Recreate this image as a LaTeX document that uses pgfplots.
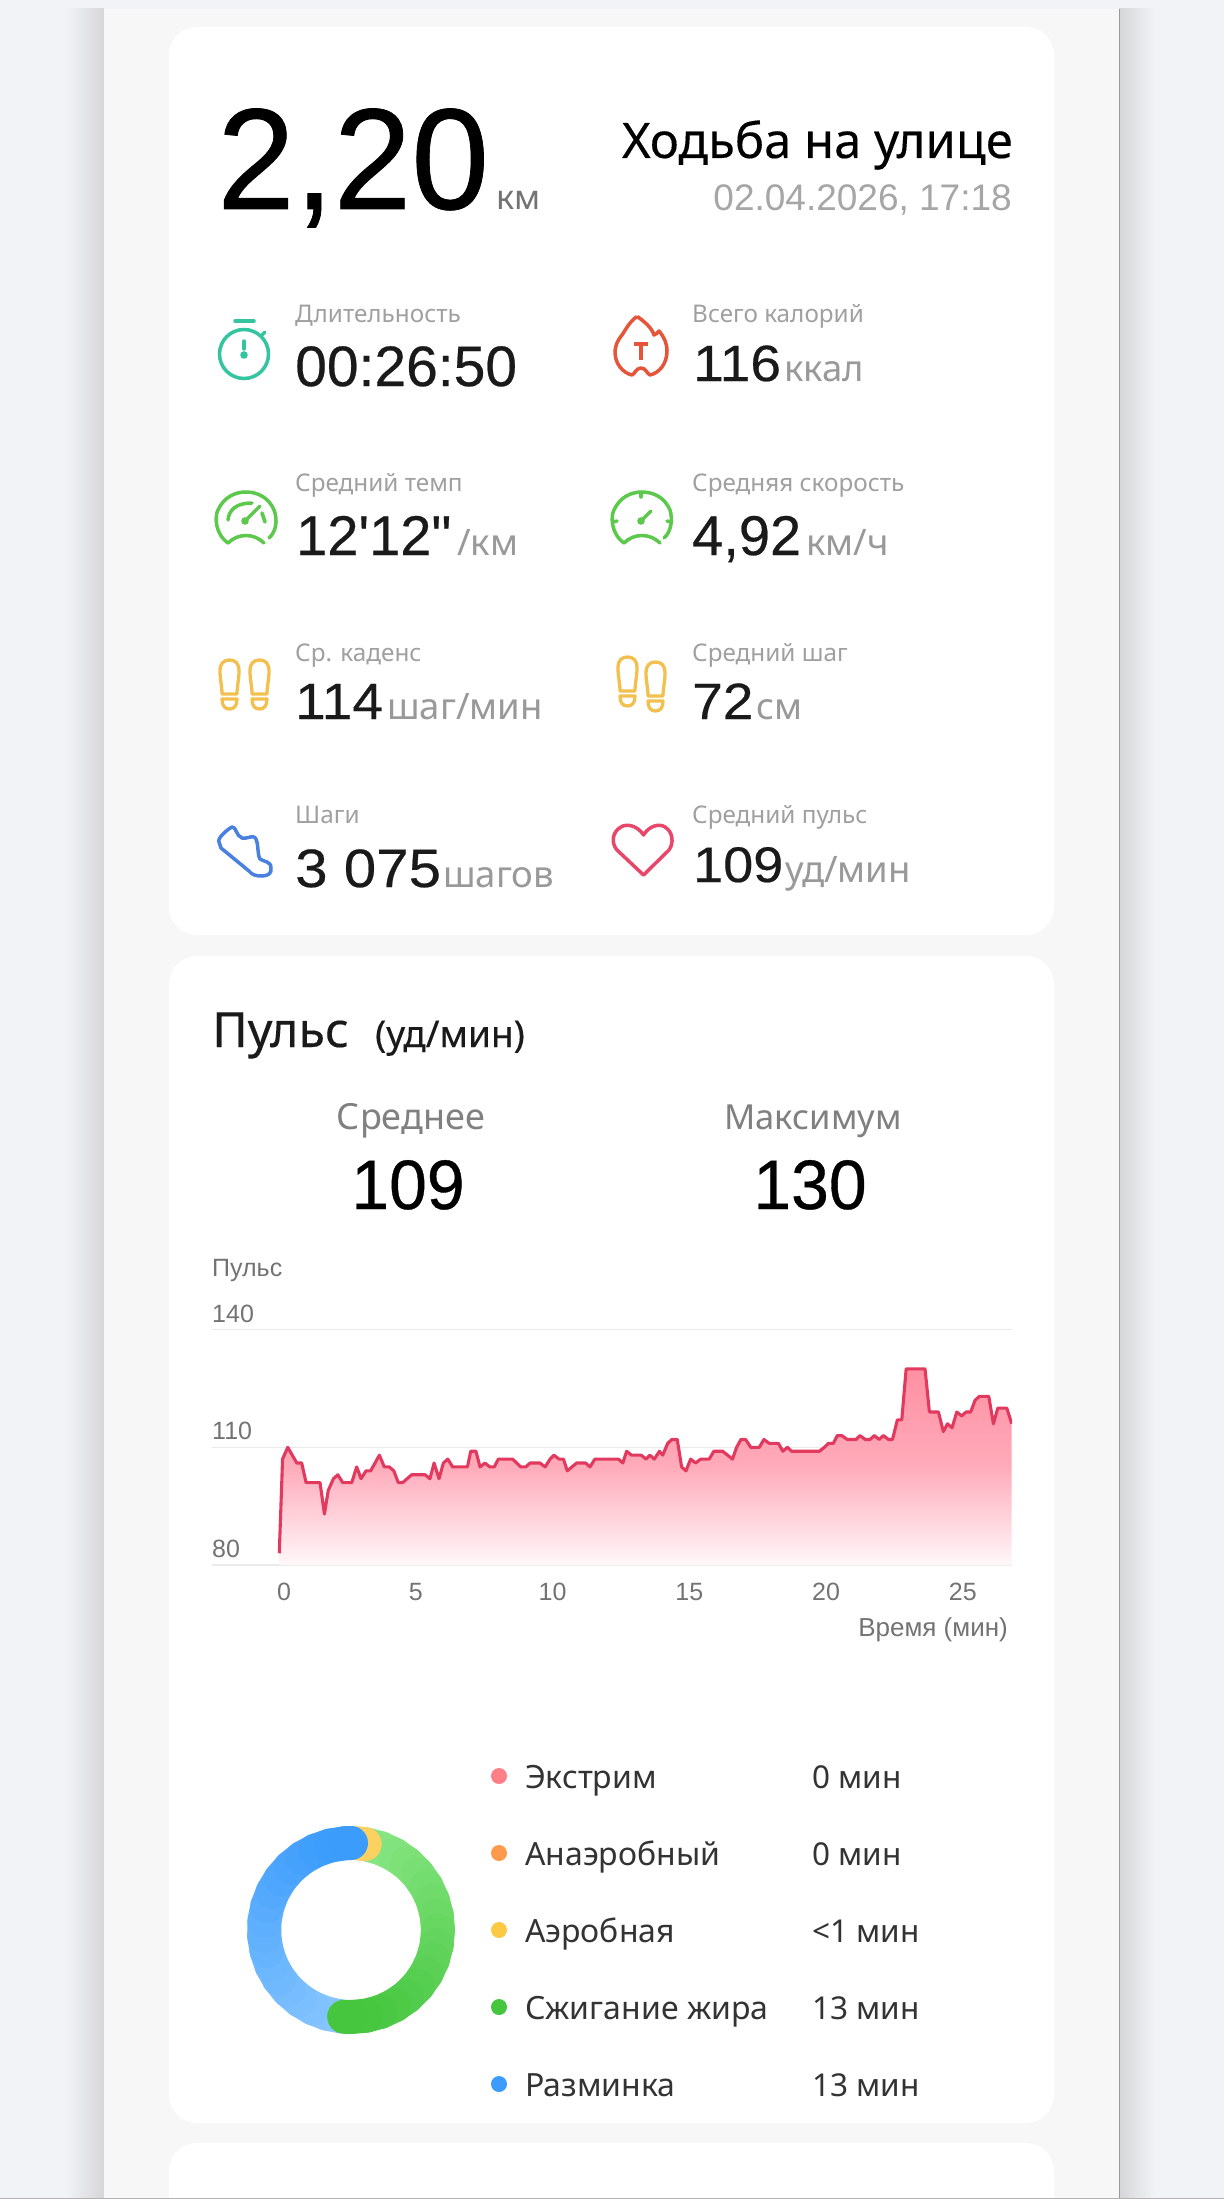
\documentclass[border=0pt]{standalone}
\usepackage{fontspec}
\usepackage{pgfplots}
\usepackage{pgfplotstable}
\pgfplotsset{compat=1.18}
\usepgfplotslibrary{polar}
\setmainfont{Noto Sans}
\newfontfamily\notom[FakeBold=0.25]{Noto Sans}
\newfontfamily\din[FakeStretch=0.97,FakeBold=0.5]{Liberation Sans}
\newfontfamily\dinA[FakeStretch=1.0,FakeBold=0.4]{Liberation Sans}
\newfontfamily\dinB[FakeStretch=1.08,FakeBold=0.4]{Liberation Sans}
\newfontfamily\dateF[FakeStretch=1.0]{Liberation Sans}
\newfontfamily\chartf{Liberation Sans}
\newcommand\fs[1]{\fontsize{#1}{#1}\selectfont}
\definecolor{bgc}{HTML}{F1F3F6}
\definecolor{panelc}{HTML}{F7F7F7}
\definecolor{shadec}{HTML}{D6D6D8}
\definecolor{lblc}{HTML}{A0A0A0}
\definecolor{unitc}{HTML}{999999}
\definecolor{valc}{HTML}{1A1A1A}
\definecolor{hrc}{HTML}{E23A5E}
\definecolor{fillc}{HTML}{FF8C9F}
\definecolor{fillm}{HTML}{FFA8B8}
\definecolor{fillb}{HTML}{FFF8FA}
\definecolor{zr}{HTML}{FF7F86}
\definecolor{zo}{HTML}{FF9A4D}
\definecolor{zy}{HTML}{FBC944}
\definecolor{zg}{HTML}{45C63E}
\definecolor{zb}{HTML}{3B9CFC}
\definecolor{gra}{HTML}{8CE888}
\definecolor{blb}{HTML}{8CC8FF}
\definecolor{stepc}{HTML}{F2C04F}
\definecolor{watchc}{HTML}{34C5A0}
\definecolor{gaugec}{HTML}{5CC84C}
\definecolor{flamec}{HTML}{E4553A}
\definecolor{shoec}{HTML}{4A80E0}
\definecolor{heartc}{HTML}{E8476A}
\newcommand\lbl[3]{\node[anchor=base west,inner sep=0pt,text=lblc,font=\fs{24.3}] at (#1,#2) {#3};}
\newcommand\val[5]{\node[anchor=base west,inner sep=0pt,text=valc,font=#4\fs{#3}] at (#1,#2) {#5};}
\newcommand\unt[3]{\node[anchor=base west,inner sep=0pt,text=unitc,font=\fs{36.5}] at (#1,#2) {#3};}
\newcommand\foot[2]{\begin{scope}[shift={(#1,#2)}]
\draw[color=stepc,line width=3.3pt,line join=round] (0,11) .. controls (0,3) and (4,0) .. (9.5,0) .. controls (15,0) and (19,3) .. (19,11) .. controls (19,20) and (17,26) .. (17,34) -- (2,34) .. controls (2,26) and (0,20) .. (0,11) -- cycle;
\draw[color=stepc,line width=3.3pt,line join=round] (2,39) -- (17,39) .. controls (17,46) and (14,49) .. (9.5,49) .. controls (5,49) and (2,46) .. (2,39) -- cycle;
\end{scope}}
\pgfplotstableread{
t bpm
0.01 83
0.13 107
0.32 110
0.65 106
0.83 106
0.99 101
1.50 101
1.66 93
1.80 99
1.99 102
2.15 103
2.33 101
2.66 101
2.84 105
3.00 102
3.18 104
3.35 104
3.67 108
3.85 105
4.03 105
4.20 104
4.36 101
4.52 101
4.85 103
5.34 103
5.52 102
5.67 106
5.85 102
6.01 106
6.17 107
6.35 105
6.89 105
7.01 109
7.20 109
7.35 105
7.53 106
7.71 105
7.87 105
8.02 107
8.54 107
8.84 105
9.02 105
9.18 106
9.54 106
9.73 105
9.91 107
10.05 108
10.24 107
10.40 107
10.54 104
10.88 106
11.21 106
11.37 105
11.55 107
12.41 107
12.57 106
12.71 109
12.89 108
13.24 108
13.42 107
13.56 108
13.72 107
13.91 109
14.03 108
14.21 111
14.36 112
14.56 112
14.72 105
14.88 104
15.05 107
15.23 106
15.42 107
15.73 107
15.90 109
16.22 109
16.58 107
16.73 110
16.89 112
17.06 112
17.25 110
17.56 110
17.73 112
17.92 111
18.26 111
18.42 109
18.59 110
18.74 109
19.76 109
19.94 110
20.09 111
20.27 111
20.41 113
20.57 113
20.78 112
21.10 112
21.24 113
21.43 112
21.61 112
21.77 113
21.94 112
22.10 113
22.28 112
22.43 112
22.61 117
22.77 117
22.93 130
23.62 130
23.78 119
24.11 119
24.29 114
24.44 116
24.61 115
24.78 119
24.96 118
25.12 119
25.29 119
25.45 122
25.61 123
25.95 123
26.12 116
26.28 120
26.61 120
26.79 116
}\hrdata
\begin{document}
\begin{tikzpicture}[x=1pt,y=-1pt]
\useasboundingbox (0,0) rectangle (1224,2199);
\clip (0,0) rectangle (1224,2199);
\fill[bgc] (0,0) rectangle (1224,2199);
\shade[left color=bgc,right color=shadec] (65,9) rectangle (104,2199);
\shade[left color=shadec,right color=bgc] (1119,9) rectangle (1155,2199);
\fill[panelc] (104,9) rectangle (1119,2199);
\draw[black!40,line width=1pt] (1119.5,9) -- (1119.5,2199);
\fill[white,rounded corners=28pt] (169,27) rectangle (1054,935);
\fill[white,rounded corners=28pt] (169,956) rectangle (1054,2123);
\fill[white,rounded corners=28pt] (169,2143) rectangle (1054,2300);
\draw[black!30,line width=1.5pt] (0,2198.5) -- (1224,2198.5);
% header
\node[anchor=base west,inner sep=0pt,font=\din\fs{144}] at (217,209) {2,20};
\node[anchor=base west,inner sep=0pt,text=black!55,font=\fs{34}] at (496,210) {км};
\node[anchor=base east,inner sep=0pt,font=\notom\fs{49}] at (1013,158) {Ходьба на улице};
\node[anchor=base east,inner sep=0pt,text=black!35,font=\dateF\fs{37}] at (1012,211) {02.04.2026, 17:18};
% labels
\lbl{295}{323}{Длительность}
\lbl{295}{491}{Средний темп}
\lbl{295}{661}{Ср. каденс}
\lbl{295}{823}{Шаги}
\lbl{692}{323}{Всего калорий}
\lbl{692}{491}{Средняя скорость}
\lbl{692}{661}{Средний шаг}
\lbl{692}{823}{Средний пульс}
% values
\val{295}{386}{57}{\dinA}{00:26:50}
\val{296}{555}{56}{\dinA}{12'12"}
\unt{457}{555}{/км}
\val{295}{719}{51}{\dinB}{114}
\unt{387}{719}{шаг/мин}
\val{295}{887}{54}{\dinB}{3 075}
\unt{443}{887}{шагов}
\val{693}{381}{51}{\dinB}{116}
\unt{784}{381}{ккал}
\val{692}{555}{56}{\dinA}{4,92}
\unt{806}{555}{км/ч}
\val{692}{719}{51}{\dinB}{72}
\unt{756}{719}{см}
\val{693}{882}{50}{\dinB}{109}
\unt{785}{882}{уд/мин}
% stopwatch
\begin{scope}[color=watchc,line width=3.5pt]
\draw (244,354) circle (24.5);
\draw[line cap=round] (235,321) -- (254,321);
\draw[line cap=round] (244,341) -- (244,349);
\fill (244,355) circle (3.8);
\draw[line cap=round] (262,335) -- (265,332);
\end{scope}
% gauge left
\begin{scope}[color=gaugec,line width=3.5pt,line cap=round,xshift=2pt]
\draw (226,543) .. controls (212,533) and (213,515) .. (216,510) .. controls (222,497) and (233,492) .. (244,492) .. controls (256,492) and (267,498) .. (272,510) .. controls (276,520) and (274,532) .. (267,538);
\draw (226,543) .. controls (236,533) and (252,533) .. (262,543);
\draw (226,520) .. controls (227,510) and (234,503) .. (250,503);
\draw (243,521) -- (258,506);
\draw (260,513) -- (263,522);
\fill (243,521) circle (3.8);
\end{scope}
% gauge right
\begin{scope}[color=gaugec,line width=3.5pt,line cap=round]
\draw (624,543) .. controls (610,533) and (611,515) .. (614,510) .. controls (620,497) and (631,492) .. (642,492) .. controls (654,492) and (665,498) .. (670,510) .. controls (673,520) and (671,532) .. (664,538);
\draw (624,543) .. controls (634,533) and (650,533) .. (660,543);
\draw (641,521) -- (651,511);
\draw (641,493) -- (641,497);
\draw (613,522) -- (617,521);
\draw (671,522) -- (667,521);
\fill (641,521) circle (3.8);
\end{scope}
% feet
\foot{220}{660}\foot{250}{660}\foot{618}{657}\foot{646}{662}
% flame
\begin{scope}[color=flamec,line width=3.5pt,line join=round]
\draw (637,316.5) .. controls (629,322) and (625,331) .. (622,335) .. controls (616,342) and (615,349) .. (615,352) .. controls (615,364) and (623,373) .. (632,375) .. controls (635,374) and (636,368) .. (641,368) .. controls (646,368) and (647,374) .. (650,375) .. controls (659,373) and (667,364) .. (667,351) .. controls (667,343) and (664,337) .. (659,331) .. controls (658,333) and (656,334) .. (654,335) .. controls (652,328) and (644,321) .. (637,316.5);
\draw (634,344) -- (648,344);
\draw (641,344) -- (641,360);
\end{scope}
% shoe
\draw[color=shoec,line width=3.5pt,line join=round] (219,842) .. controls (217,838) and (228,829) .. (232,827) .. controls (236,826) and (236,836) .. (242,838) .. controls (247,839) and (250,836) .. (254,837) .. controls (259,839) and (257,855) .. (260,859) .. controls (264,862) and (271,861) .. (271,868) .. controls (272,873) and (268,876) .. (262,876) .. controls (256,876) and (252,875) .. (249,871) -- (221,848) -- cycle;
% heart
\draw[color=heartc,line width=3.5pt,line join=round] (643.5,835) .. controls (638,826) and (627,823) .. (621,827) .. controls (612,832) and (611,843) .. (617,850) -- (643.5,875) -- (669,850) .. controls (674,843) and (673,832) .. (665,827) .. controls (659,823) and (649,826) .. (643.5,835) -- cycle;
% card 2 head
\node[anchor=base west,inner sep=0pt,text=valc,font=\notom\fs{48.5}] at (212,1047) {Пульс};
\node[anchor=base west,inner sep=0pt,text=valc,font=\notom\fs{37}] at (375,1047) {(уд/мин)};
\node[anchor=base,inner sep=0pt,text=black!50,font=\fs{36}] at (411,1129) {Среднее};
\node[anchor=base,inner sep=0pt,text=black!50,font=\fs{34.5}] at (813,1129) {Максимум};
\node[anchor=base,inner sep=0pt,text=black,font=\din\fs{70}] at (408,1209) {109};
\node[anchor=base,inner sep=0pt,text=black,font=\din\fs{70}] at (810,1209) {130};
\node[anchor=base west,inner sep=0pt,text=black!55,font=\chartf\fs{25}] at (212,1276) {Пульс};
\node[anchor=base east,inner sep=0pt,text=black!55,font=\chartf\fs{26}] at (1008,1636) {Время (мин)};
% legend
\foreach \yy/\cc/\aa/\bb in {1776/zr/Экстрим/0 мин,1853/zo/Анаэробный/0 мин,1930/zy/Аэробная/<1 мин,2007/zg/Сжигание жира/13 мин,2084/zb/Разминка/13 мин}{
\fill[\cc] (499,\yy) circle (8);
\node[anchor=base west,inner sep=0pt,text=black!80,font=\fs{32}] at (525,\yy+12) {\aa};
\node[anchor=base west,inner sep=0pt,text=black!80,font=\fs{31.5}] at (812,\yy+12) {\bb};
}
% line chart
\begin{axis}[at={(212pt,-1565pt)},anchor=south west,scale only axis,width=800pt,height=235.4pt,
 xmin=-2.45,xmax=26.80,ymin=80,ymax=140,
 xtick={0,5,10,15,20,25},xticklabels={\hspace*{10pt}0,5,10,15,20,25},ytick={80,110,140},
 ymajorgrids,grid style={color=black!8,line width=1.4pt},
 axis line style={draw=none},major tick length=0pt,
 /pgf/number format/assume math mode=true,
 tick label style={font=\chartf\fs{25},text=black!55,inner sep=0pt},
 yticklabel style={anchor=base west,yshift=7.5pt,xshift=0pt},
 xticklabel style={anchor=base,yshift=-35pt}]
\addplot[draw=none,top color=fillc,bottom color=fillb,middle color=fillm,opacity=0.96] table[x=t,y=bpm] {\hrdata} \closedcycle;
\addplot[color=hrc,line width=3.1pt,line join=round] table[x=t,y=bpm] {\hrdata};
\end{axis}
% donut
\begin{polaraxis}[at={(351pt,-1930pt)},anchor=center,scale only axis,width=240pt,height=240pt,
 ymin=0,ymax=120,hide axis,point meta min=0,point meta max=1,clip=false]
\addplot[mesh,line width=34pt,line cap=round,point meta=explicit,
 colormap={gr}{color(0)=(gra) color(1)=(zg)}]
 coordinates {(80,87) [0] (70,87) [0.06] (60,87) [0.12] (50,87) [0.18] (40,87) [0.24] (30,87) [0.3] (20,87) [0.36] (10,87) [0.42] (0,87) [0.48] (-10,87) [0.54] (-20,87) [0.6] (-30,87) [0.66] (-40,87) [0.72] (-50,87) [0.78] (-60,87) [0.84] (-70,87) [0.9] (-80,87) [0.94]};
\addplot[color=zy!85!white,line width=34pt,line cap=round] coordinates {(90,87) (85,87) (81,87)};
\addplot[mesh,line width=34pt,line cap=round,point meta=explicit,
 colormap={bl}{color(0)=(blb) color(1)=(zb)}]
 coordinates {(-96,87) [0] (-106,87) [0.06] (-116,87) [0.12] (-126,87) [0.18] (-136,87) [0.24] (-146,87) [0.3] (-156,87) [0.36] (-166,87) [0.42] (-176,87) [0.48] (-186,87) [0.54] (-196,87) [0.6] (-206,87) [0.66] (-216,87) [0.72] (-226,87) [0.78] (-236,87) [0.84] (-246,87) [0.9] (-256,87) [0.95] (-266,87) [1] (-270,87) [1]};
\addplot[mesh,line width=34pt,line cap=round,point meta=explicit,
 colormap={gr2}{color(0)=(gra) color(1)=(zg)}]
 coordinates {(-80,87) [0.94] (-90,87) [1] (-94.5,87) [1]};
\end{polaraxis}
\end{tikzpicture}
\end{document}
